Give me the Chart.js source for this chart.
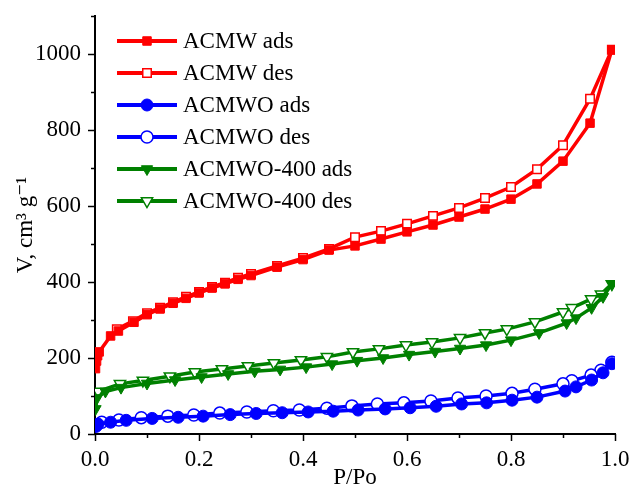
<!DOCTYPE html>
<html>
<head>
<meta charset="utf-8">
<script src="https://cdn.jsdelivr.net/npm/chart.js@4/dist/chart.umd.min.js"></script>
<style>
  html, body { margin: 0; padding: 0; background: #fff; }
  #wrap { width: 631px; height: 488px; position: relative; }
</style>
</head>
<body>
<div id="wrap"><canvas id="c" width="631" height="488"></canvas></div>
<script>
// N2 isotherms: relative pressure P/Po and adsorbed volume (cm3/g)
const acmwAdsP = [0.001,0.003,0.005,0.008,0.03,0.045,0.075,0.1,0.125,0.15,0.175,0.2,0.225,0.25,0.275,0.3,0.35,0.4,0.45,0.5,0.55,0.6,0.65,0.7,0.75,0.8,0.85,0.9,0.952,0.994];
const acmwAdsV = [172,192,206,216,258,271,294,314,329,344,357,371,384,395,407,417,439,459,484,495,513,532,550,571,592,618,658,718,818,1011];

const acmwDesP = [0.994,0.952,0.9,0.85,0.8,0.75,0.7,0.65,0.6,0.55,0.5,0.45,0.4,0.35,0.3,0.275,0.25,0.225,0.2,0.175,0.15,0.125,0.1,0.073,0.042];
const acmwDesV = [1011,882,760,697,650,621,595,574,553,534,518,487,463,442,421,411,398,387,374,361,347,332,318,297,276];

const acmwoAdsP = [0.002,0.006,0.03,0.06,0.11,0.16,0.208,0.26,0.31,0.36,0.41,0.458,0.506,0.558,0.606,0.656,0.705,0.753,0.802,0.85,0.904,0.925,0.955,0.977,0.994];
const acmwoAdsV = [20,26,31,36,41,44,47,51,54,56,58,60,63,66,69,73,79,82,89,97,113,124,142,161,185];

const acmwoDesP = [0.994,0.973,0.954,0.917,0.9,0.846,0.802,0.752,0.698,0.646,0.594,0.543,0.494,0.446,0.393,0.343,0.292,0.24,0.19,0.14,0.089,0.046,0.013];
const acmwoDesV = [189,168,155,140,132,118,107,100,95,87,82,79,74,68,63,61,58,55,50,47,43,37,31];

const acmwo400AdsP = [0.001,0.004,0.02,0.05,0.1,0.154,0.205,0.256,0.307,0.356,0.406,0.456,0.504,0.554,0.604,0.654,0.702,0.752,0.8,0.854,0.907,0.925,0.955,0.977,0.994];
const acmwo400AdsV = [66,95,112,122,133,142,150,158,165,170,176,184,193,200,209,217,225,234,247,266,292,305,332,361,395];

const acmwo400DesP = [0.994,0.973,0.954,0.917,0.9,0.846,0.792,0.75,0.702,0.648,0.598,0.546,0.496,0.446,0.396,0.344,0.294,0.244,0.192,0.144,0.092,0.048,0.006];
const acmwo400DesV = [395,368,355,332,321,295,276,266,253,242,234,224,216,203,195,187,179,171,163,152,141,132,112];

const seriesNames = ['ACMW ads','ACMW des','ACMWO ads','ACMWO des','ACMWO-400 ads','ACMWO-400 des'];

const xTicksMajor = [0, 0.2, 0.4, 0.6, 0.8, 1.0];
const yTicksMajor = [0, 200, 400, 600, 800, 1000];

const FONT = '"Liberation Serif", "DejaVu Serif", serif';
const FSIZE = 23;

function pts(p, v) { return p.map((x, i) => ({ x: x, y: v[i] })); }

function series(label, p, v, color, style, filled, rot) {
  return {
    label: label,
    data: pts(p, v),
    borderColor: color,
    backgroundColor: color,
    borderWidth: 3.5,
    pointStyle: style,
    pointRotation: rot || 0,
    pointRadius: style === 'triangle' ? 6.5 : 6,
    pointBorderWidth: filled ? 1 : 1.5,
    pointBackgroundColor: filled ? color : '#ffffff',
    pointBorderColor: color,
    showLine: true,
    tension: 0,
    fill: false
  };
}

const RED = '#ff0000', BLUE = '#0000ff', GREEN = '#008000';

const datasets = [
  series(seriesNames[0], acmwAdsP, acmwAdsV, RED, 'rect', true),
  series(seriesNames[1], acmwDesP, acmwDesV, RED, 'rect', false),
  series(seriesNames[2], acmwoAdsP, acmwoAdsV, BLUE, 'circle', true),
  series(seriesNames[3], acmwoDesP, acmwoDesV, BLUE, 'circle', false),
  series(seriesNames[4], acmwo400AdsP, acmwo400AdsV, GREEN, 'triangle', true, 180),
  series(seriesNames[5], acmwo400DesP, acmwo400DesV, GREEN, 'triangle', false, 180)
];

// outward tick marks (major + minor) on the left and bottom axes
const tickMarks = {
  id: 'tickMarks',
  afterDraw(chart) {
    const ctx = chart.ctx;
    const xs = chart.scales.x, ys = chart.scales.y;
    const area = chart.chartArea;
    ctx.save();
    ctx.strokeStyle = '#000';
    ctx.lineWidth = 1.5;
    for (let i = 0; i <= 11; i++) {
      const v = i * 100;
      const py = Math.round(ys.getPixelForValue(v)) + 0.5;
      const len = (i % 2 === 0) ? 7 : 4;
      ctx.beginPath();
      ctx.moveTo(area.left - len, py);
      ctx.lineTo(area.left, py);
      ctx.stroke();
    }
    for (let i = 0; i <= 10; i++) {
      const v = i / 10;
      const px = Math.round(xs.getPixelForValue(v)) + 0.5;
      const len = (i % 2 === 0) ? 7 : 4;
      ctx.beginPath();
      ctx.moveTo(px, area.bottom);
      ctx.lineTo(px, area.bottom + len);
      ctx.stroke();
    }
    ctx.restore();
  }
};

// legend rows: line sample with centred marker, then the series name
const lineLegend = {
  id: 'lineLegend',
  afterDraw(chart) {
    const ctx = chart.ctx;
    ctx.save();
    chart.data.datasets.forEach((ds, i) => {
      const y = 41 + 32 * i;
      ctx.strokeStyle = ds.borderColor;
      ctx.lineWidth = 4;
      ctx.beginPath();
      ctx.moveTo(117, y);
      ctx.lineTo(177, y);
      ctx.stroke();
      ctx.fillStyle = ds.pointBackgroundColor;
      ctx.strokeStyle = ds.pointBorderColor;
      ctx.lineWidth = ds.pointBorderWidth;
      Chart.helpers.drawPoint(ctx, {
        pointStyle: ds.pointStyle,
        rotation: ds.pointRotation,
        radius: ds.pointRadius,
        borderWidth: ds.pointBorderWidth
      }, 147, y);
      ctx.fillStyle = '#000';
      ctx.font = FSIZE + 'px ' + FONT;
      ctx.textBaseline = 'middle';
      ctx.textAlign = 'left';
      ctx.fillText(ds.label, 183, y + 1);
    });
    ctx.restore();
  }
};

new Chart(document.getElementById('c'), {
  type: 'scatter',
  data: { datasets: datasets },
  plugins: [tickMarks, lineLegend],
  options: {
    responsive: false,
    animation: false,
    layout: { padding: { left: 0, right: 16, top: 16, bottom: 0 } },
    plugins: { legend: { display: false }, tooltip: { enabled: false } },
    scales: {
      x: {
        type: 'linear',
        min: 0, max: 1,
        afterFit(s) { s.height = 54; s.paddingLeft = 0; s.paddingRight = 0; },
        border: { display: true, color: '#000', width: 2 },
        grid: { display: false, drawTicks: false },
        ticks: {
          stepSize: 0.2,
          padding: 12,
          color: '#000',
          font: { family: FONT, size: FSIZE },
          callback: v => xTicksMajor.some(t => Math.abs(t - v) < 1e-6) ? v.toFixed(1) : ''
        },
        title: {
          display: true,
          text: 'P/Po',
          color: '#000',
          font: { family: FONT, size: FSIZE },
          padding: { top: 0, bottom: -4 }
        }
      },
      y: {
        type: 'linear',
        min: 0, max: 1100,
        afterFit(s) { s.width = 95; s.paddingTop = 0; s.paddingBottom = 0; },
        border: { display: true, color: '#000', width: 2 },
        grid: { display: false, drawTicks: false },
        ticks: {
          stepSize: 200,
          padding: 14,
          color: '#000',
          font: { family: FONT, size: FSIZE },
          callback: v => yTicksMajor.includes(v) ? String(v) : ''
        },
        title: {
          display: true,
          text: 'V, cm\u00B3 g\u207B\u00B9',
          color: '#000',
          font: { family: FONT, size: FSIZE },
          padding: { top: 12, bottom: 0 }
        }
      }
    }
  }
});
</script>
</body>
</html>
